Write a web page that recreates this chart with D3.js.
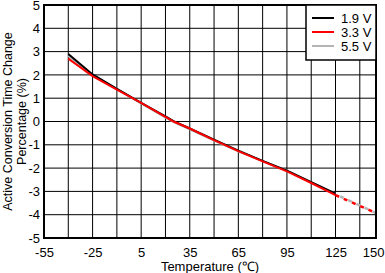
<!DOCTYPE html>
<html>
<head>
	<meta charset='utf-8'>
	<script src="https://cdnjs.cloudflare.com/ajax/libs/d3/7.8.5/d3.min.js"></script>
	<style>
	body { margin:0; background:#fff; font-family:"Liberation Sans", Arial, sans-serif; }
	</style>
</head>
<body>
<script>
	// temperatures measured (°C) and the three supply voltages
	var temps = [-40, -25, -10, 5, 20, 25, 35, 50, 65, 80, 95, 110, 125];
	var v19 = [2.9, 2.02, 1.4, 0.8, 0.22, 0.02, -0.3, -0.78, -1.25, -1.69, -2.11, -2.6, -3.1];
	var v33 = [2.7, 1.95, 1.37, 0.8, 0.2, 0.0, -0.3, -0.8, -1.27, -1.71, -2.14, -2.64, -3.16];
	var v55 = [2.82, 2.0, 1.4, 0.78, 0.17, -0.03, -0.34, -0.82, -1.28, -1.7, -2.11, -2.6, -3.1];
	// extrapolated (dashed) part
	var extTemps = [125, 150];
	var ext33 = [-3.16, -3.93];
	var ext55 = [-3.12, -3.93];

	var seriesNames = ['1.9 V', '3.3 V', '5.5 V'];
	var seriesColors = ['#000000', '#ff0000', '#b4b4b4'];
	var xTickLabels = [-55, -25, 5, 35, 65, 95, 125, 150];
	var xGrid = [-40, -25, -10, 5, 20, 35, 50, 65, 80, 95, 110, 125, 140];
	var yTicks = [-5, -4, -3, -2, -1, 0, 1, 2, 3, 4, 5];

	var W = 385, H = 273;
	var margin = {top: 5, right: 9, bottom: 35, left: 44};
	var svg = d3.select('body').append('svg').attr('width', W).attr('height', H);

	var x = d3.scaleLinear().domain([-55, 150]).range([margin.left, W - margin.right]);
	var y = d3.scaleLinear().domain([-5, 5]).range([H - margin.bottom, margin.top]);

	// grid
	svg.append('g').selectAll('line.v').data(xGrid).enter().append('line')
		.attr('x1', function (d) { return x(d); }).attr('x2', function (d) { return x(d); })
		.attr('y1', y(5)).attr('y2', y(-5))
		.attr('stroke', '#000').attr('stroke-width', 1);
	svg.append('g').selectAll('line.h').data(yTicks).enter().append('line')
		.attr('y1', function (d) { return y(d); }).attr('y2', function (d) { return y(d); })
		.attr('x1', x(-55)).attr('x2', x(150))
		.attr('stroke', '#000').attr('stroke-width', 1);

	// axes labels (plain hyphen for negatives, like the original)
	var fmt = function (d) { return String(d); };
	var yAxis = d3.axisLeft(y).tickValues(yTicks).tickSize(0).tickPadding(4).tickFormat(fmt);
	var gy = svg.append('g').attr('transform', 'translate(' + margin.left + ',0)').call(yAxis);
	var xAxis = d3.axisBottom(x).tickValues(xTickLabels).tickSize(0).tickPadding(10).tickFormat(fmt);
	var gx = svg.append('g').attr('transform', 'translate(0,' + (H - margin.bottom) + ')').call(xAxis);
	[gx, gy].forEach(function (g) {
		g.select('.domain').remove();
		g.selectAll('text').attr('font-size', 13).attr('fill', '#000')
			.attr('font-family', '"Liberation Sans", Arial, sans-serif');
	});
	// keep the last x label inside the window
	gx.selectAll('.tick').filter(function (d) { return d == 150; }).select('text')
		.attr('text-anchor', 'end').attr('dx', W - 1 - x(150));

	// lines
	var line = d3.line().x(function (d) { return x(d[0]); }).y(function (d) { return y(d[1]); });
	var order = [v55, v19, v33];
	var orderColors = [seriesColors[2], seriesColors[0], seriesColors[1]];
	order.forEach(function (vals, i) {
		svg.append('path').datum(d3.zip(temps, vals)).attr('d', line)
			.attr('fill', 'none').attr('stroke', orderColors[i]).attr('stroke-width', 2);
	});
	svg.append('path').datum(d3.zip(extTemps, ext55)).attr('d', line)
		.attr('fill', 'none').attr('stroke', seriesColors[2]).attr('stroke-width', 2.5)
		.attr('stroke-dasharray', '4,5').attr('stroke-dashoffset', 4);
	svg.append('path').datum(d3.zip(extTemps, ext33)).attr('d', line)
		.attr('fill', 'none').attr('stroke', seriesColors[1]).attr('stroke-width', 2.5)
		.attr('stroke-dasharray', '4,5');

	// frame
	svg.append('rect').attr('x', x(-55)).attr('y', y(5))
		.attr('width', x(150) - x(-55)).attr('height', y(-5) - y(5))
		.attr('fill', 'none').attr('stroke', '#000').attr('stroke-width', 2);

	// legend
	var lg = svg.append('g');
	lg.append('rect').attr('x', 306).attr('y', y(5)).attr('width', x(150) - 306).attr('height', 55)
		.attr('fill', '#fff').attr('stroke', '#000').attr('stroke-width', 1.5);
	seriesNames.forEach(function (name, i) {
		var yy = 18 + i * 14;
		lg.append('line').attr('x1', 312).attr('x2', 334).attr('y1', yy).attr('y2', yy)
			.attr('stroke', seriesColors[i]).attr('stroke-width', 2);
		lg.append('text').attr('x', 341).attr('y', yy + 4.5).attr('font-size', 13).text(name);
	});

	// titles
	svg.append('text').attr('x', (x(-55) + x(150)) / 2).attr('y', 271)
		.attr('text-anchor', 'middle').attr('font-size', 13).text('Temperature (\u2103)');
	var cy = (y(5) + y(-5)) / 2;
	svg.append('text').attr('transform', 'translate(12,' + cy + ') rotate(-90)')
		.attr('text-anchor', 'middle').attr('font-size', 12.5).text('Active Conversion Time Change');
	svg.append('text').attr('transform', 'translate(26,' + cy + ') rotate(-90)')
		.attr('text-anchor', 'middle').attr('font-size', 12.5).text('Percentage (%)');
</script>
</body>
</html>
